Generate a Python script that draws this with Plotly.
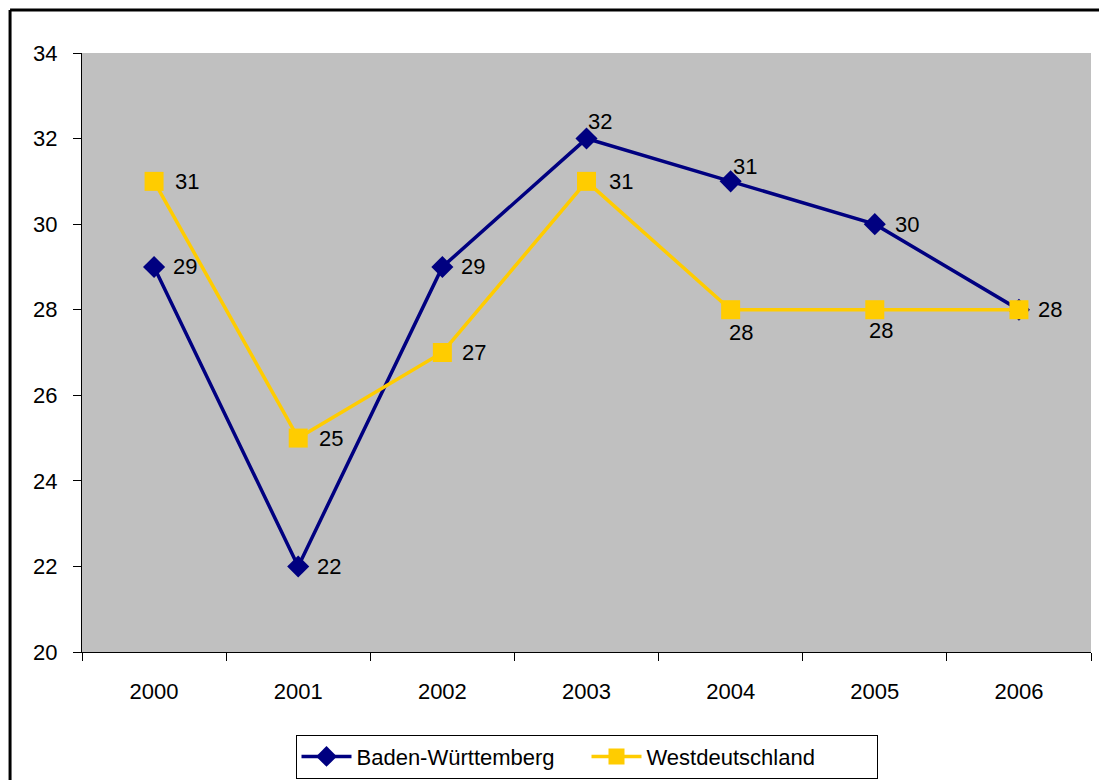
import plotly.graph_objects as go

years = ["2000", "2001", "2002", "2003", "2004", "2005", "2006"]
bw_values = [29, 22, 29, 32, 31, 30, 28]
wd_values = [31, 25, 27, 31, 28, 28, 28]
bw_name = "Baden-Württemberg"
wd_name = "Westdeutschland"
y_ticks = [20, 22, 24, 26, 28, 30, 32, 34]

# label offsets in pixels (dx, dy up)
bw_off = [(31, 0), (31, 0), (31, 0), (13, 17), (14, 15), (32, 0), (31, 0)]
wd_off = [(33, 0), (33, 0), (32, 0), (34, 0), (10, -23), (6, -21), (31, 0)]

FONT = "Liberation Sans, Arial, sans-serif"

fig = go.Figure()
fig.add_trace(go.Scatter(
    x=years, y=bw_values, name=bw_name, mode="lines+markers",
    line=dict(color="#000080", width=3.5),
    marker=dict(symbol="diamond", size=17, color="#000080"),
))
fig.add_trace(go.Scatter(
    x=years, y=wd_values, name=wd_name, mode="lines+markers",
    line=dict(color="#FFCC00", width=3.5),
    marker=dict(symbol="square", size=19, color="#FFCC00"),
))

annotations = []
seen = set()
for vals, offs in ((bw_values, bw_off), (wd_values, wd_off)):
    for i, (v, (dx, dy)) in enumerate(zip(vals, offs)):
        key = (i, v, dx, dy)
        if key in seen:
            continue  # identical label at identical spot: draw once
        seen.add(key)
        annotations.append(dict(x=i, y=v, xref="x", yref="y", text=str(v),
                                showarrow=False, xshift=dx, yshift=dy,
                                font=dict(family=FONT, size=22, color="black")))

fig.update_layout(
    width=1099, height=780,
    margin=dict(l=82, r=8, t=53, b=128, autoexpand=False),
    paper_bgcolor="white", plot_bgcolor="#C0C0C0",
    font=dict(family=FONT, size=22, color="black"),
    showlegend=True,
    legend=dict(orientation="h", x=0.5, xanchor="center", y=-0.138, yanchor="top",
                bgcolor="white", bordercolor="black", borderwidth=1,
                font=dict(size=22), itemwidth=50, entrywidth=225),
    xaxis=dict(type="category", range=[-0.5, 6.5], tickson="boundaries",
               ticks="outside", ticklen=8, tickcolor="black",
               showline=True, linecolor="black", linewidth=1,
               showgrid=False, zeroline=False, ticklabelstandoff=20),
    yaxis=dict(range=[20, 34], tickvals=y_ticks, ticks="outside", ticklen=8,
               tickcolor="black", showline=True, linecolor="black", linewidth=1,
               showgrid=False, zeroline=False, ticklabelstandoff=11),
    annotations=annotations,
    shapes=[
        dict(type="line", xref="paper", yref="paper", x0=-0.0713, x1=1.02,
             y0=1.0718, y1=1.0718, line=dict(color="black", width=3)),
        dict(type="line", xref="paper", yref="paper", x0=-0.0713, x1=-0.0713,
             y0=1.0718, y1=-0.25, line=dict(color="black", width=3)),
    ],
)

fig.write_html("out.html")
